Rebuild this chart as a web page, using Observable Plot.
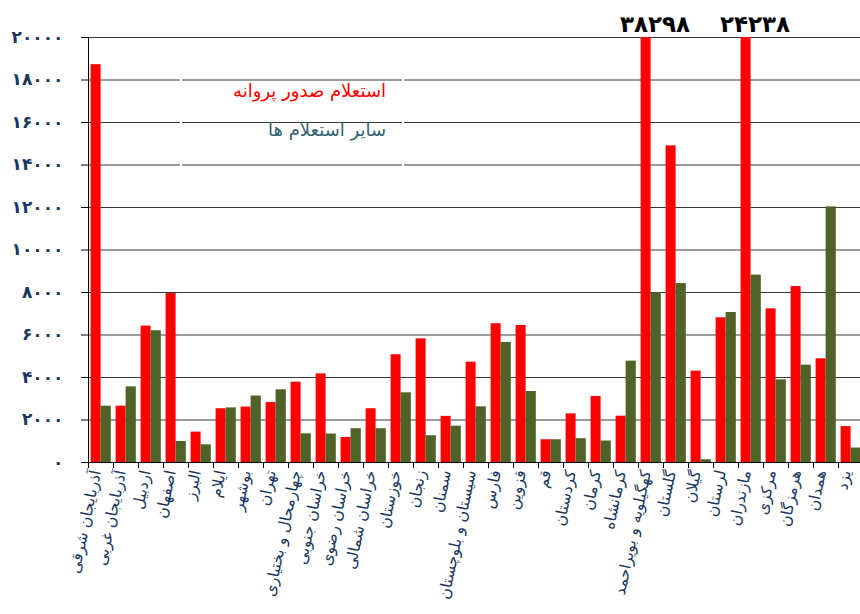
<!DOCTYPE html>
<html>
<head>
<meta charset="utf-8">
<script src="https://cdn.jsdelivr.net/npm/d3@7"></script>
<script src="https://cdn.jsdelivr.net/npm/@observablehq/plot@0.6"></script>
<style>
  html, body { margin: 0; padding: 0; background: #fff; overflow: hidden; }
  #wrap { position: relative; width: 860px; height: 614px; }
  #legend { position: absolute; left: 180px; top: 72px; width: 220px; height: 94px;
            border-left: 2px solid #fff; border-right: 2px solid #fff;
            font-family: "DejaVu Sans", sans-serif; font-size: 18px; direction: rtl; }
  #legend div { position: absolute; right: 16px; white-space: nowrap; }
</style>
</head>
<body>
<div id="wrap">
  <div id="chart"></div>
  <div id="legend">
    <div id="l1" style="top:8px;color:#ff0000">استعلام صدور پروانه</div>
    <div id="l2" style="top:47px;color:#2f6272">سایر استعلام ها</div>
  </div>
</div>
<script>
const provinces = ["آذربایجان شرقی","آذربایجان غربی","اردبیل","اصفهان","البرز","ایلام","بوشهر","تهران","چهارمحال و بختیاری","خراسان جنوبی","خراسان رضوی","خراسان شمالی","خوزستان","زنجان","سمنان","سیستان و بلوچستان","فارس","قزوین","قم","کردستان","کرمان","کرمانشاه","کهگیلویه و بویراحمد","گلستان","گیلان","لرستان","مازندران","مرکزی","هرمزگان","همدان","یزد"];
const permit = [18720, 2650, 6420, 7950, 1430, 2530, 2610, 2820, 3780, 4170, 1180, 2530, 5070, 5820, 2170, 4720, 6530, 6450, 1070, 2290, 3110, 2180, 38298, 14900, 4300, 6810, 24238, 7230, 8280, 4880, 1690];
const other  = [2650, 3560, 6200, 990, 830, 2570, 3130, 3420, 1350, 1340, 1590, 1590, 3280, 1260, 1710, 2620, 5650, 3340, 1070, 1120, 1010, 4770, 7990, 8420, 130, 7060, 8820, 3890, 4580, 12030, 680];
const yTicks = [0, 2000, 4000, 6000, 8000, 10000, 12000, 14000, 16000, 18000, 20000];
const seriesNames = ["استعلام صدور پروانه", "سایر استعلام ها"];

const fa = v => String(v).replace(/\d/g, d => "۰۱۲۳۴۵۶۷۸۹"[d]);

const W = 860, H = 614, mL = 88, mT = 37, mB = 152, mR = 0;
const frameH = H - mT - mB, frameW = W - mL - mR;
const font = "DejaVu Sans, sans-serif";
const navy = "#17375e";

const chart = Plot.plot({
  width: W, height: H,
  marginLeft: mL, marginRight: mR, marginTop: mT, marginBottom: mB,
  style: { fontFamily: font, background: "transparent", overflow: "hidden" },
  x: { type: "linear", domain: [0, provinces.length], range: [mL, mL + 25 * provinces.length], axis: null },
  y: { domain: [0, 20000], clamp: true, axis: null },
  marks: [
    Plot.ruleY(yTicks.slice(1), { stroke: "#000", strokeOpacity: 0.78 }),
    Plot.rectY(permit, { x1: (d, i) => i, x2: (d, i) => i + 1, y1: 0, y2: d => d, fill: "#ff0000", insetLeft: 2.6, insetRight: 12.4 }),
    Plot.rectY(other, { x1: (d, i) => i, x2: (d, i) => i + 1, y1: 0, y2: d => d, fill: "#4f6228", insetLeft: 12.6, insetRight: 2.2 }),
    Plot.ruleY([0], { stroke: "#000" }),
    Plot.ruleY(yTicks, { stroke: "#000", insetLeft: -7, insetRight: frameW }),
    Plot.ruleX([0], { stroke: "#000", insetBottom: -5 }),
    Plot.ruleX(d3.range(provinces.length + 1), { stroke: "#000", insetTop: frameH, insetBottom: -6 }),
    Plot.text(yTicks, { y: d => d, frameAnchor: "left", dx: -25, textAnchor: "end", text: fa, fill: navy, fontSize: 17, fontWeight: "bold" }),
    Plot.text(provinces, { x: (d, i) => i + 0.5, frameAnchor: "bottom", dy: 9, rotate: -78, textAnchor: "end", text: d => d, fill: navy, fontSize: 15.5 }),
    Plot.text(permit, { filter: d => d > 20000, x: (d, i) => i + 0.5, frameAnchor: "top", dy: -22, dx: 4, text: fa, fill: "#000", fontSize: 23, fontWeight: "bold" })
  ]
});
document.getElementById("chart").appendChild(chart);
document.getElementById("l1").textContent = seriesNames[0];
document.getElementById("l2").textContent = seriesNames[1];
</script>
</body>
</html>
